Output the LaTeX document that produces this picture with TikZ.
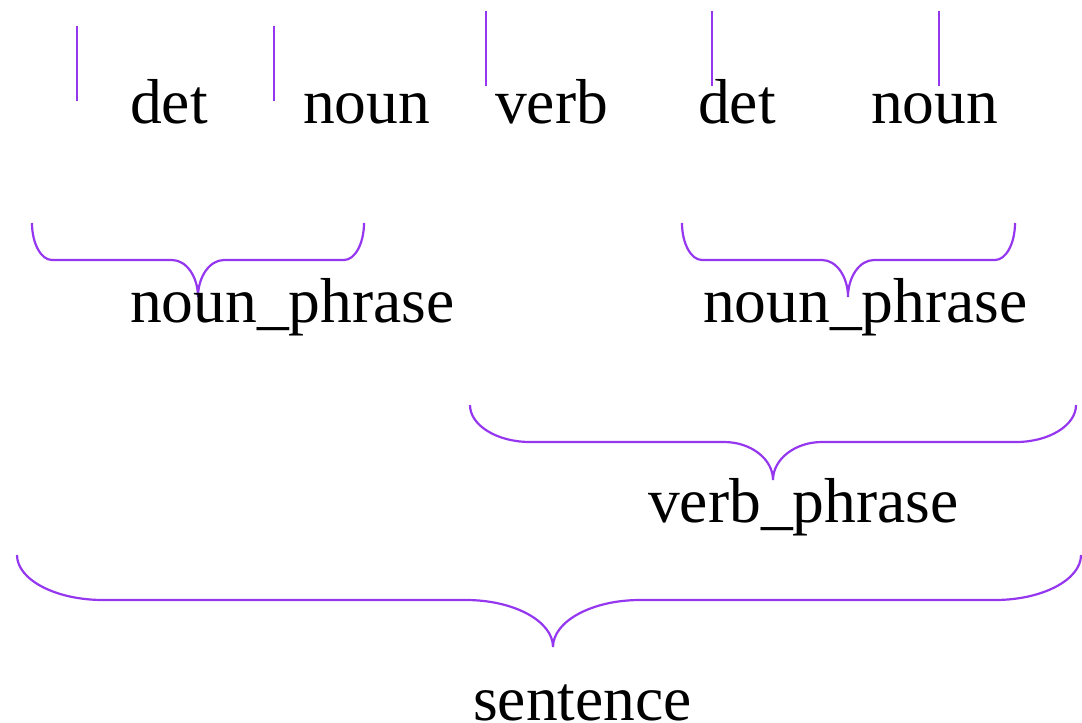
\documentclass[tikz,border=0pt]{standalone}
\usepackage{fontspec}
\setmainfont{Liberation Serif}
\definecolor{treeline}{RGB}{150,55,240}

% Curly brace opening upwards: left x, right x, top y, bar y, tip x, tip y,
% corner width, inner curve half-width
\newcommand\phrasebrace[8]{%
  \draw[brace]
    (#1,#3) .. controls (#1,{#3+0.55*(#4-#3)}) and ({#1+0.45*#7},#4) .. ({#1+#7},#4)
    -- ({#5-#8},#4)
    .. controls ({#5-0.45*#8},#4) and (#5,{#6-0.55*(#6-#4)}) .. (#5,#6)
    .. controls (#5,{#6-0.55*(#6-#4)}) and ({#5+0.45*#8},#4) .. ({#5+#8},#4)
    -- ({#2-#7},#4)
    .. controls ({#2-0.45*#7},#4) and (#2,{#3+0.55*(#4-#3)}) .. (#2,#3);}

\begin{document}
\begin{tikzpicture}[x=1pt,y=-1pt,
  word/.style={anchor=base west,inner sep=0pt,font=\fontsize{63.5}{76}\selectfont},
  tick/.style={draw=treeline,line width=2.5pt},
  brace/.style={draw=treeline,line width=2.2pt}]
\useasboundingbox (0,0) rectangle (1082,723);

% leaf words
\node[word] (w1) at (130,123) {det};
\node[word] (w2) at (303,123) {noun};
\node[word] (w3) at (495,123) {verb};
\node[word] (w4) at (698,123) {det};
\node[word] (w5) at (871,123) {noun};

% separators above the words
\draw[tick] (77,26) -- (77,101);
\draw[tick] (274,26) -- (274,101);
\draw[tick] (486,11) -- (486,86);
\draw[tick] (712,11) -- (712,86);
\draw[tick] (939,11) -- (939,86);

% phrase braces
\phrasebrace{32}{364}{223}{260}{198}{297}{20}{26}
\phrasebrace{682}{1015}{223}{260}{848}{297}{20}{26}
\phrasebrace{470}{1076}{405}{442}{773}{480}{60}{49}
\phrasebrace{17}{1081}{555}{600}{553}{647}{86}{87}

% phrase labels
\node[word] (np1) at (130,322) {noun\_phrase};
\node[word] (np2) at (703,322) {noun\_phrase};
\node[word] (vp) at (648,522) {verb\_phrase};
\node[word] (s) at (473,720) {sentence};
\end{tikzpicture}
\end{document}
